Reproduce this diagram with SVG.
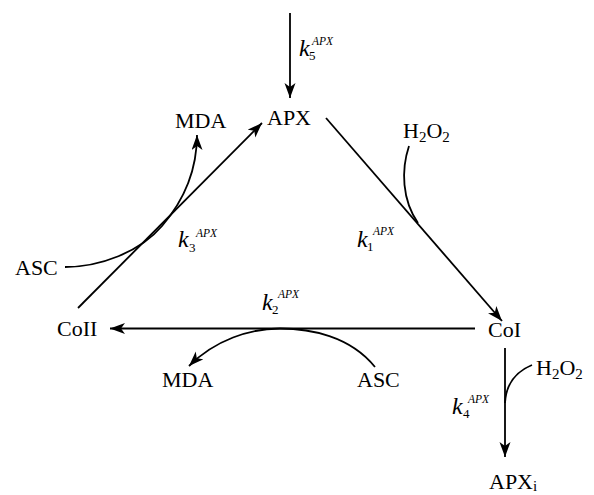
<svg xmlns="http://www.w3.org/2000/svg" width="594" height="495" viewBox="0 0 594 495">
<style>
.t{font-family:"Liberation Serif","Times New Roman",serif;font-size:22px;fill:#000}
.s{font-size:15px}
.k{font-family:"Liberation Serif","Times New Roman",serif;font-style:italic;font-size:24px;fill:#000}
.kd{font-family:"Liberation Serif","Times New Roman",serif;font-size:13px;fill:#000}
.ks{font-family:"Liberation Serif","Times New Roman",serif;font-style:italic;font-size:11.5px;fill:#000}
.ln{fill:none;stroke:#000;stroke-width:1.8}
.ar{marker-end:url(#ah)}
</style>
<defs>
<marker id="ah" markerUnits="userSpaceOnUse" markerWidth="16" markerHeight="12" refX="15" refY="5.5" orient="auto" viewBox="0 0 16 12">
<path d="M0,0 L15,5.5 L0,11 L4,5.5 z" fill="#000"/>
</marker>
</defs>
<g id="connectors">
<line class="ln ar" x1="290" y1="13" x2="290" y2="98"/>
<line class="ln ar" x1="326" y1="118" x2="502" y2="321"/>
<path class="ln" d="M409,146 C401,170 402,200 418,223"/>
<line class="ln ar" x1="475" y1="328.5" x2="110" y2="328.5"/>
<path class="ln ar" d="M375,367 C350,336 310,328.5 280,328.5 C250,328.5 215,340 189,366"/>
<line class="ln ar" x1="78" y1="308" x2="262" y2="123"/>
<path class="ln ar" d="M65,267 C100,267 140,252 162,226 C180,205 197,175 197,135"/>
<line class="ln ar" x1="505" y1="348" x2="505" y2="457"/>
<path class="ln" d="M532,365 C515,372 506,385 505,403"/>
</g>
<g id="APX"><text class="t" x="267" y="125">APX</text></g>
<g id="MDA_top"><text class="t" x="175" y="128">MDA</text></g>
<g id="H2O2_top"><text class="t" x="403" y="138">H<tspan class="s" dy="4">2</tspan><tspan dy="-4">O</tspan><tspan class="s" dy="4">2</tspan></text></g>
<g id="ASC_left"><text class="t" x="15" y="275">ASC</text></g>
<g id="CoII"><text class="t" x="57" y="336">CoII</text></g>
<g id="CoI"><text class="t" x="488" y="337">CoI</text></g>
<g id="MDA_bottom"><text class="t" x="162" y="387">MDA</text></g>
<g id="ASC_bottom"><text class="t" x="357" y="387">ASC</text></g>
<g id="H2O2_right"><text class="t" x="536" y="375">H<tspan class="s" dy="4">2</tspan><tspan dy="-4">O</tspan><tspan class="s" dy="4">2</tspan></text></g>
<g id="APXi"><text class="t" x="489" y="489">APX<tspan class="s" dy="2">i</tspan></text></g>
<g id="k5"><text class="k" x="299" y="56">k</text><text class="kd" x="309" y="60">5</text><text class="ks" x="312" y="45">APX</text></g>
<g id="k3"><text class="k" x="178" y="247">k</text><text class="kd" x="189" y="252">3</text><text class="ks" x="196" y="237">APX</text></g>
<g id="k1"><text class="k" x="357" y="247">k</text><text class="kd" x="367" y="251">1</text><text class="ks" x="373" y="235">APX</text></g>
<g id="k2"><text class="k" x="262" y="310">k</text><text class="kd" x="272" y="314">2</text><text class="ks" x="278" y="298">APX</text></g>
<g id="k4"><text class="k" x="452" y="414">k</text><text class="kd" x="463" y="418">4</text><text class="ks" x="468" y="403">APX</text></g>
</svg>
